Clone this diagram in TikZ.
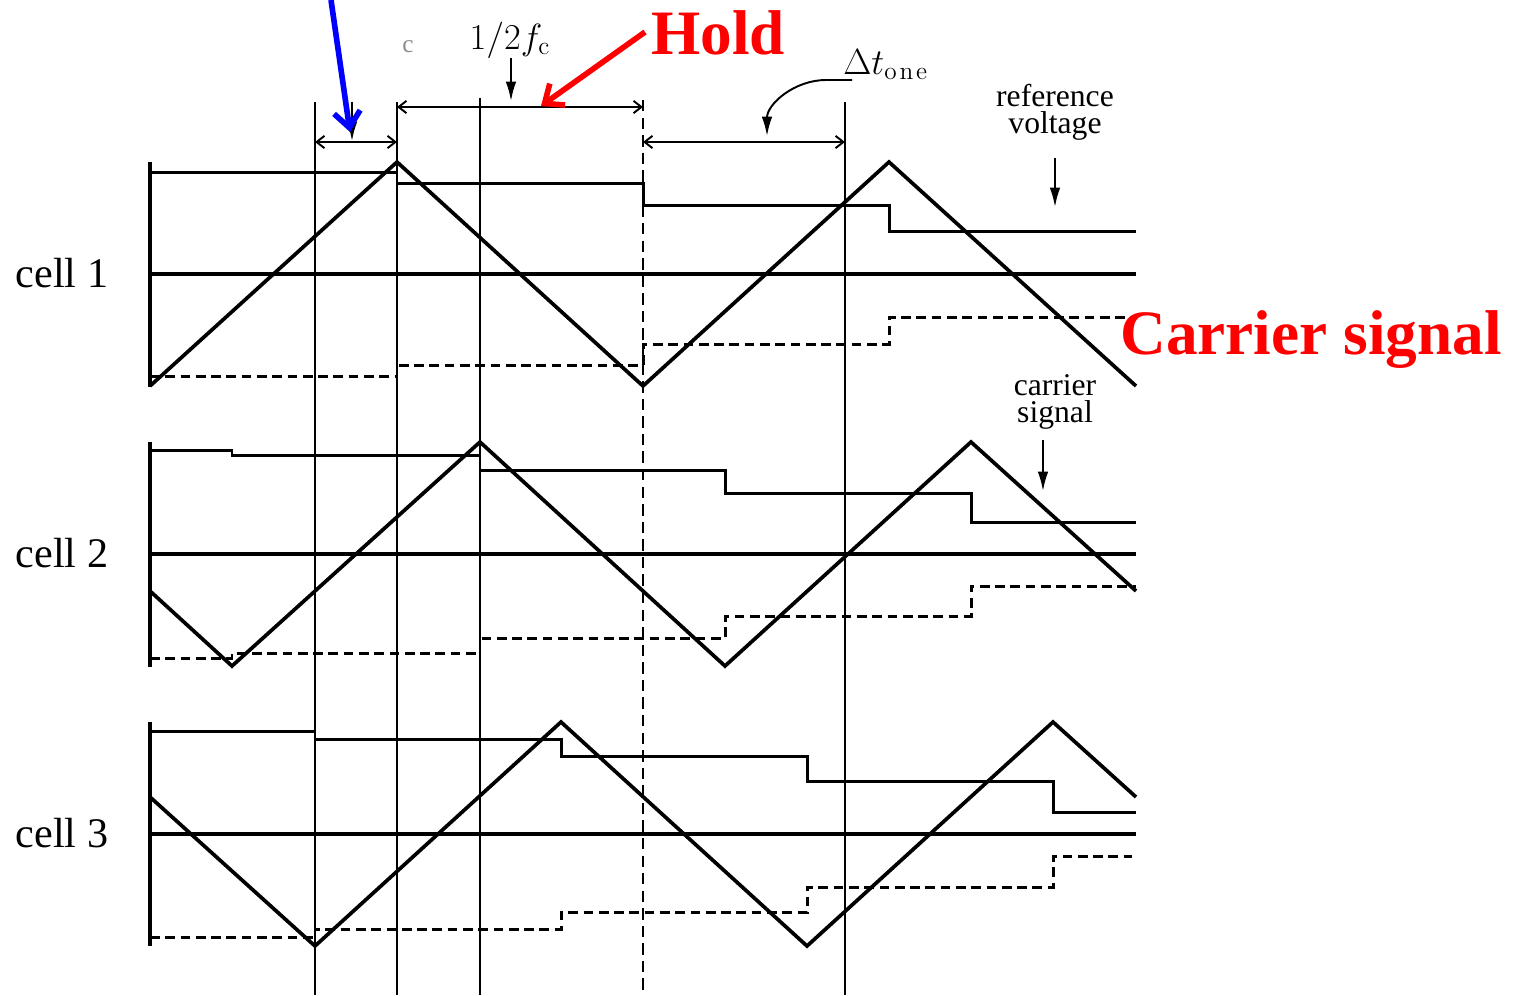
\documentclass[tikz,border=0pt]{standalone}
\usepackage[no-math]{fontspec}
\setmainfont{Liberation Serif}
\usetikzlibrary{arrows.meta,positioning}
\tikzset{
	carrier/.style = {line width=2.1pt, line join=miter},% triangular carrier of each cell
	refstep/.style = {line width=1.7pt},% sampled reference voltage
	negstep/.style = {line width=1.7pt, dash pattern=on 5.5pt off 3.2pt},% mirrored reference
	axisline/.style = {line width=2.5pt},
	zeroline/.style = {line width=1.8pt},
	timemark/.style = {line width=1.2pt},
	dimarrow/.style = {{Straight Barb[length=4.5pt,width=7pt]}-{Straight Barb[length=4.5pt,width=7pt]}, line width=1.1pt},
	pointer/.style = {-{Latex[length=11pt,width=6pt]}, line width=1.1pt},
	celllabel/.style = {font=\fontsize{24}{26}\selectfont},
	smalllabel/.style = {font=\fontsize{18}{15.5}\selectfont, align=center, inner sep=0pt},
	mathlabel/.style = {font=\fontsize{22}{24}\selectfont, inner sep=0pt},
	callout/.style = {font=\fontsize{36}{40}\selectfont\bfseries, text=red, inner sep=0pt}
}

\begin{document}
\begin{tikzpicture}[x=0.02cm,y=-0.02cm]
	\useasboundingbox (0,0) rectangle (1518,995);

	% vertical time marks
	\draw[timemark] (315,102) -- (315,995);
	\draw[timemark] (397,102) -- (397,995);
	\draw[timemark] (480,98) -- (480,995);
	\draw[timemark, line width=1.4pt, dash pattern=on 6.5pt off 3.5pt] (643,100) -- (643,992);
	\draw[timemark] (845,102) -- (845,995);

	% cell 1
	\node[celllabel] (cellone) at (62,273) {cell 1};
	\draw[axisline] (150,162) -- (150,387);
	\draw[zeroline] (150,274) -- (1136,274);
	\draw[carrier] (150,386) -- (397,162) -- (643,386) -- (889,162) -- (1136,386);
	\draw[refstep] (150,172) -- (397,172) -- (397,183) -- (643,183) -- (643,205) -- (889,205) -- (889,231) -- (1136,231);
	\draw[negstep] (150,376) -- (397,376) -- (397,365) -- (643,365) -- (643,344) -- (889,344) -- (889,317) -- (1136,317);

	% cell 2
	\node[celllabel] (celltwo) at (62,553) {cell 2};
	\draw[axisline] (150,442) -- (150,667);
	\draw[zeroline] (150,554) -- (1136,554);
	\draw[carrier] (150,591) -- (232,666) -- (480,442) -- (725,666) -- (971,442) -- (1136,591);
	\draw[refstep] (150,450) -- (232,450) -- (232,455) -- (480,455) -- (480,470) -- (725,470) -- (725,493) -- (971,493) -- (971,522) -- (1136,522);
	\draw[negstep] (150,658) -- (232,658) -- (232,653) -- (480,653) -- (480,638) -- (725,638) -- (725,616) -- (971,616) -- (971,586) -- (1136,586);

	% cell 3
	\node[celllabel] (cellthree) at (62,833) {cell 3};
	\draw[axisline] (150,722) -- (150,946);
	\draw[zeroline] (150,834) -- (1136,834);
	\draw[carrier] (150,797) -- (315,946) -- (561,722) -- (807,946) -- (1053,722) -- (1136,797);
	\draw[refstep] (150,731) -- (315,731) -- (315,739) -- (561,739) -- (561,756) -- (807,756) -- (807,781) -- (1053,781) -- (1053,812) -- (1136,812);
	\draw[negstep] (150,937) -- (315,937) -- (315,929) -- (561,929) -- (561,912) -- (807,912) -- (807,887) -- (1053,887) -- (1053,856) -- (1132,856);

	% interval marks on top
	\coordinate (qa) at (315,142);
	\coordinate (qb) at (397,142);
	\coordinate (ha) at (397,107);
	\coordinate (hb) at (643,107);
	\coordinate (da) at (643,142);
	\coordinate (db) at (845,142);
	\draw[dimarrow] (qa) -- (qb);
	\draw[dimarrow] (ha) -- (hb);
	\draw[dimarrow] (da) -- (db);

	\node[text=black!45, font=\Large, inner sep=0pt] (csub) at (408,47) {c};
	\coordinate (qtail) at (352,102);
	\coordinate (qtip) at (352,141);
	\draw[pointer] (qtail) -- (qtip);

	\node[mathlabel] (halfper) at (510,40) {$1/2f_{\mathrm{c}}$};
	\coordinate (htail) at (511,58);
	\coordinate (htip) at (511,101);
	\draw[pointer] (htail) -- (htip);

	\node[mathlabel, anchor=south west] (dtone) at (843,80) {$\Delta t_{\mathrm{o\mkern2mu n\mkern2mu e}}$};
	\coordinate (dtbar) at (852,80);
	\coordinate (dtbend) at (826,80);
	\coordinate (dttip) at (767,136);
	\draw[pointer] (dtbar) -- (dtbend) to[out=180,in=90] (dttip);

	\node[smalllabel] (refv) at (1055,112) {reference\\voltage};
	\coordinate (refvtail) at (1055,158);
	\coordinate (refvtip) at (1055,207);
	\draw[pointer] (refvtail) -- (refvtip);

	\node[smalllabel] (carsig) at (1055,402) {carrier\\signal};
	\coordinate (carsigtail) at (1043,440);
	\coordinate (carsigtip) at (1043,491);
	\draw[pointer] (carsigtail) -- (carsigtip);

	% highlighted callouts
	\node[callout] (hold) at (718,33) {Hold};
	\coordinate (holdtail) at (645,32);
	\coordinate (holdtip) at (541,106);
	\draw[-{Straight Barb[length=9pt,width=15pt]}, red, line width=3.2pt] (holdtail) -- (holdtip);

	\node[callout] (carrierbig) at (1311,340) {Carrier signal};

	\coordinate (sampletail) at (331,0);
	\coordinate (sampletip) at (350,132);
	\draw[-{Straight Barb[length=9pt,width=15pt]}, blue, line width=3.2pt] (sampletail) -- (sampletip);
\end{tikzpicture}
\end{document}
